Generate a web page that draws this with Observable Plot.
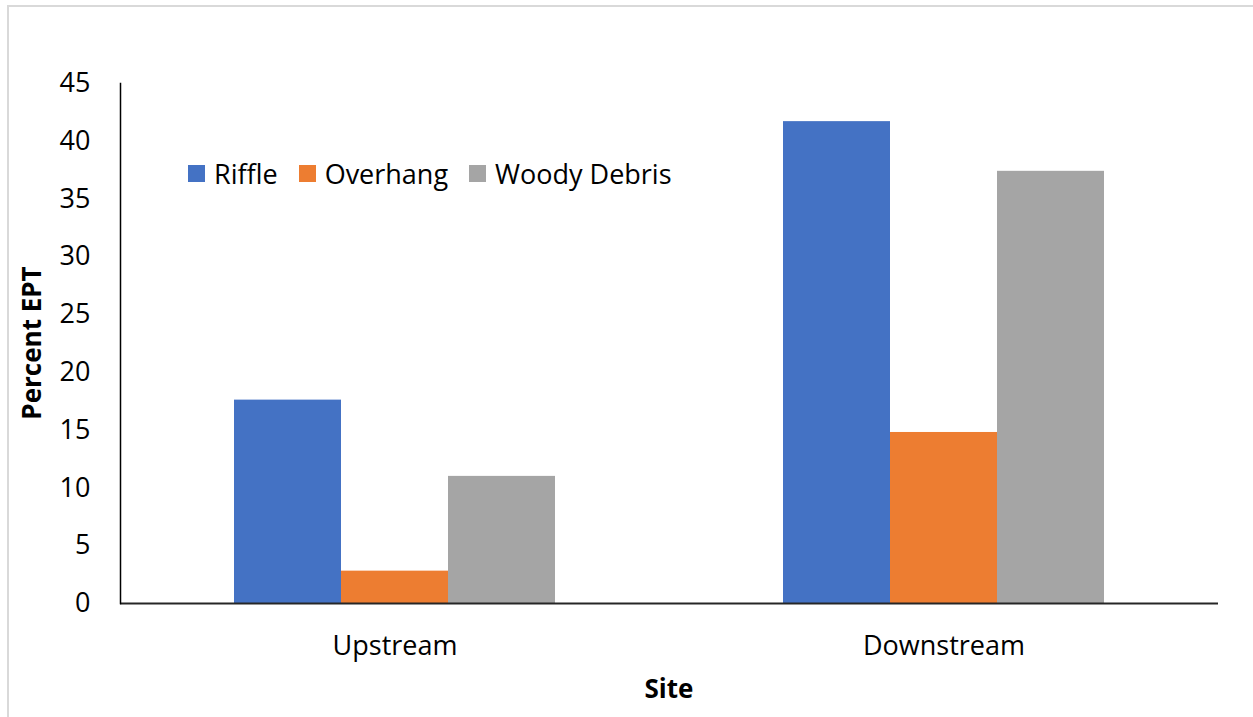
<!DOCTYPE html>
<html>
<head>
<meta charset="utf-8">
<script src="https://cdn.jsdelivr.net/npm/d3@7"></script>
<script src="https://cdn.jsdelivr.net/npm/@observablehq/plot@0.6"></script>
<style>
  html, body { margin: 0; padding: 0; background: #fff; }
  body { width: 1253px; height: 717px; overflow: hidden; position: relative; font-family: "Open Sans", sans-serif; }
  #border { position: absolute; left: 7px; top: 5px; width: 1300px; height: 800px; border-top: 2px solid #d9d9d9; border-left: 2px solid #d9d9d9; }
  #chart { position: absolute; left: 0; top: 0; }
  #legend { position: absolute; left: 188px; top: 155px; }
  .lg-swatches { font-family: "Open Sans", sans-serif !important; font-size: 27px !important; color: #000 !important; margin: 0 !important; }
  .lg-swatch { margin-right: 21px !important; }
  .lg-swatch > svg { margin-right: 9px !important; }
</style>
</head>
<body>
<div id="border"></div>
<div id="chart"></div>
<div id="legend"></div>
<script>
const sites = ["Upstream", "Downstream"];
const series = ["Riffle", "Overhang", "Woody Debris"];
const riffle = [17.6, 41.7];
const overhang = [2.8, 14.8];
const woody = [11.0, 37.4];
const colors = ["#4472C4", "#ED7D31", "#A5A5A5"];
const yTicks = [0, 5, 10, 15, 20, 25, 30, 35, 40, 45];
const xTitle = "Site";
const yTitle = "Percent EPT";

const valuesBySeries = [riffle, overhang, woody];
const data = [];
sites.forEach((site, i) => {
  series.forEach((s, j) => data.push({site, series: s, value: valuesBySeries[j][i]}));
});

const plot = Plot.plot({
  width: 1253,
  height: 717,
  marginLeft: 120,
  marginRight: 35,
  marginTop: 83,
  marginBottom: 114,
  style: {fontFamily: "Open Sans, sans-serif", fontSize: "27px", color: "#000", background: "transparent"},
  fx: {domain: sites, padding: 0},
  x: {domain: series, paddingInner: 0, paddingOuter: 1.06, axis: null},
  y: {domain: [0, 45], axis: null},
  color: {domain: series, range: colors},
  marks: [
    Plot.barY(data, {fx: "site", x: "series", y: "value", fill: "series"}),
    Plot.axisY({ticks: yTicks, tickSize: 0, tickPadding: 30, label: null, fontSize: 27}),
    Plot.axisFx({anchor: "bottom", tickSize: 0, tickPadding: 32, label: null, fontSize: 27}),
    Plot.ruleY([0], {stroke: "#262626", strokeWidth: 2}),
    Plot.frame({anchor: "left", facetAnchor: "left", stroke: "#000", strokeWidth: 1.5})
  ]
});

const svg = d3.select(plot);
svg.append("text")
  .attr("x", 669).attr("y", 698)
  .attr("text-anchor", "middle")
  .attr("font-family", "Open Sans, sans-serif")
  .attr("font-size", 26).attr("font-weight", "bold").attr("fill", "#000")
  .text(xTitle);
svg.append("text")
  .attr("transform", "translate(40.5,343) rotate(-90)")
  .attr("text-anchor", "middle")
  .attr("font-family", "Open Sans, sans-serif")
  .attr("font-size", 26).attr("font-weight", "bold").attr("fill", "#000")
  .text(yTitle);

document.getElementById("chart").appendChild(plot);

const legend = Plot.legend({
  color: {type: "ordinal", domain: series, range: colors},
  swatchSize: 17,
  className: "lg"
});
document.getElementById("legend").appendChild(legend);
</script>
</body>
</html>
